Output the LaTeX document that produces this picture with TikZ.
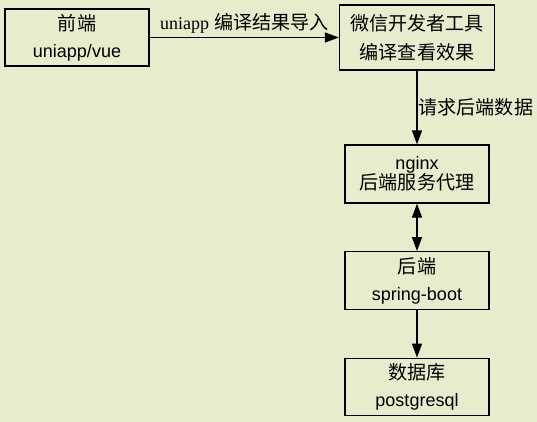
\documentclass[tikz,border=0pt]{standalone}
\usepackage{fontspec}
\setmainfont{Liberation Sans}
\newfontfamily\cjk[Scale=1.06]{Noto Sans CJK SC}
\newfontfamily\serifnt{Liberation Serif}
\usetikzlibrary{arrows.meta}
\definecolor{bg}{RGB}{232,235,204}
\begin{document}
\begin{tikzpicture}[x=1pt,y=-1pt,
  box/.style={draw=black,line width=1.3pt,fill=bg,align=center,inner sep=0pt,
    font=\fontsize{18}{27}\selectfont},
  conn/.style={line width=1.3pt,-{Triangle[length=14pt,width=10pt]}},
  lbl/.style={font=\fontsize{18}{20}\selectfont,inner sep=1pt}]
\fill[bg] (0,0) rectangle (537,422);
\useasboundingbox (0,0) rectangle (537,422);
\node[box,minimum width=144pt,minimum height=57pt] (front) at (77,37.5)
  {{\cjk 前端}\\uniapp/vue};
\node[box,minimum width=155pt,minimum height=65pt,font=\fontsize{18}{28.5}\selectfont] (wx) at (417,37.5)
  {\cjk 微信开发者工具\\\cjk 编译查看效果};
\node[box,minimum width=144pt,minimum height=58pt,font=\fontsize{18}{20}\selectfont] (nginx) at (417,174)
  {nginx\\{\cjk 后端服务代理}};
\node[box,minimum width=144pt,minimum height=57.6pt] (spring) at (417,280.5)
  {{\cjk 后端}\\spring-boot};
\node[box,minimum width=144pt,minimum height=57.6pt] (db) at (417,387)
  {{\cjk 数据库}\\postgresql};
\draw[conn] (front) -- node[lbl,above=3pt] (l1) {{\serifnt uniapp} {\cjk 编译结果导入}} (wx);
\draw[conn] (wx) -- node[lbl,right,anchor=west] (l2) {\cjk 请求后端数据} (nginx);
\draw[line width=1.3pt,{Triangle[length=14pt,width=10pt]}-{Triangle[length=14pt,width=10pt]}] (nginx) -- (spring);
\draw[conn] (spring) -- (db);
\end{tikzpicture}
\end{document}
